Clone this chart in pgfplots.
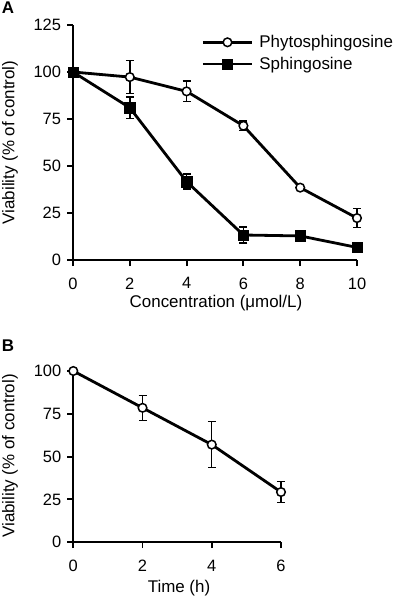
\documentclass[border=0pt]{standalone}
\usepackage{fontspec}
\setmainfont{Liberation Sans}
\usepackage{pgfplots}
\pgfplotsset{compat=1.18}
\begin{document}
\begin{tikzpicture}
\useasboundingbox (0,0) rectangle (400bp,-596bp);
\pgfplotsset{
  every axis/.append style={
    scale only axis, clip=false,
    axis lines=left,
    axis line style={-, line width=1.9bp, black},
    tick align=outside,
    major tick length=6bp,
    tick style={line width=1.9bp, black},
    /pgf/number format/assume math mode=true,
    tick label style={font=\fontsize{16.5}{19}\selectfont},
    xticklabel style={yshift=-8bp},
    yticklabel style={xshift=-2.5bp},
    error bars/error bar style={line width=1.4bp, black},
    error bars/error mark options={rotate=90, mark size=4bp, line width=1.4bp, black},
  },
  dataline/.style={black, line width=2.8bp},
  circ/.style={mark=*, mark size=4.3bp, mark options={fill=white, draw=black, line width=1.5bp, solid}},
  sq/.style={mark=square*, mark size=5.2bp, mark options={fill=black, draw=black, line width=0.5bp, solid}},
  legimg/.style={legend image code/.code={\draw[mark repeat=2,mark phase=2] plot coordinates {(0bp,0bp)(24.5bp,0bp)(49bp,0bp)};}},
}
% Panel A
\begin{axis}[
  at={(73bp,-260bp)}, anchor=south west,
  width=284bp, height=235bp,
  xmin=0, xmax=10, ymin=0, ymax=125,
  xtick={0,2,4,6,8,10}, ytick={0,25,50,75,100,125},
  legend style={at={(0.452,0.965)}, anchor=north west, draw=none, fill=none,
    font=\fontsize{17}{20}\selectfont, row sep=4bp, column sep=4bp, inner sep=0pt},
  legend cell align=left,
]
\addplot[dataline, circ, legimg, error bars/.cd, y dir=both, y explicit] table[x=x, y=y, y error=e] {
x y e
0 100 0
2 97.3 8.7
4 89.7 5.5
6 71.4 2.6
8 38.5 1.0
10 22.3 5.0
};
\addlegendentry{Phytosphingosine}
\addplot[dataline, sq, legimg, error bars/.cd, y dir=both, y explicit] table[x=x, y=y, y error=e] {
x y e
0 100 0
2 81 5.7
4 41.7 4.0
6 13.3 4.2
8 12.8 0
10 6.7 0
};
\addlegendentry{Sphingosine}
\end{axis}
% Panel B
\begin{axis}[
  at={(73.3bp,-542.2bp)}, anchor=south west,
  width=207.7bp, height=171.2bp,
  xmin=0, xmax=6, ymin=0, ymax=100,
  xtick={0,2,4,6}, ytick={0,25,50,75,100},
]
\addplot[dataline, circ, error bars/.cd, y dir=both, y explicit] table[x=x, y=y, y error=e] {
x y e
0 100 0
2 78.5 7.3
4 57.0 13.5
6 29.3 6.2
};
\end{axis}
\node[font=\fontsize{17}{20}\selectfont\bfseries] at (8bp,-8bp) {A};
\node[font=\fontsize{17}{20}\selectfont\bfseries] at (8bp,-346bp) {B};
\node[font=\fontsize{17}{20}\selectfont, rotate=90] at (10bp,-142.5bp) {Viability (\% of control)};
\node[font=\fontsize{17}{20}\selectfont, rotate=90] at (10bp,-456bp) {Viability (\% of control)};
\node[font=\fontsize{17}{20}\selectfont] at (216bp,-303bp) {Concentration (μmol/L)};
\node[font=\fontsize{17}{20}\selectfont] at (179bp,-588bp) {Time (h)};
\end{tikzpicture}
\end{document}
